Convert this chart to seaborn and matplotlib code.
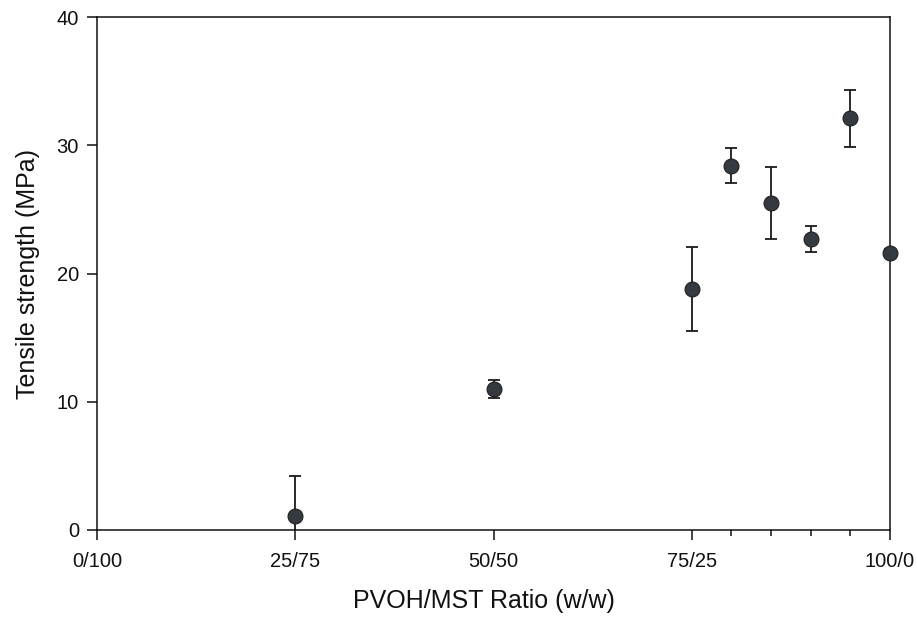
import matplotlib
matplotlib.use("Agg")
import matplotlib.pyplot as plt
import seaborn as sns
import pandas as pd
import numpy as np

# PVOH content (%) of the blend
pvoh = [25, 50, 75, 80, 85, 90, 95, 100]
strength = [1.1, 11.0, 18.8, 28.4, 25.5, 22.7, 32.1, 21.6]
err = [3.1, 0.7, 3.3, 1.35, 2.8, 1.0, 2.2, 0.3]

tick_pos = [0, 25, 50, 75, 100]
tick_labels = ["0/100", "25/75", "50/50", "75/25", "100/0"]
minor_pos = [80, 85, 90, 95]

df = pd.DataFrame({"pvoh": pvoh, "strength": strength, "err": err})

sns.set_theme(style="white")
plt.rcParams["font.family"] = ["Liberation Sans", "DejaVu Sans"]

fig = plt.figure(figsize=(9.17, 6.19), dpi=100)
ax = fig.add_axes([0.1058, 0.1438, 0.8648, 0.8287])

ax.errorbar(df["pvoh"], df["strength"], yerr=df["err"], fmt="none",
            ecolor="#1a1a1a", elinewidth=1.3, capsize=4.5, capthick=1.3,
            zorder=2, clip_on=True)
sns.scatterplot(data=df, x="pvoh", y="strength", ax=ax, s=115,
                color="#353a40", edgecolor="#202020", linewidth=0.8,
                zorder=3, clip_on=False, legend=False)

ax.set_xlim(0, 100)
ax.set_ylim(0, 40)
ax.set_xticks(tick_pos)
ax.set_xticklabels(tick_labels)
ax.set_xticks(minor_pos, minor=True)
ax.set_yticks([0, 10, 20, 30, 40])

ax.tick_params(axis="both", which="major", direction="out", length=7,
               width=1.1, color="#111111", labelsize=14.5, labelcolor="#111111",
               bottom=True, left=True, pad=6)
ax.tick_params(axis="x", which="major", pad=9)
ax.tick_params(axis="x", which="minor", direction="out", length=4,
               width=1.1, color="#111111", bottom=True)

for sp in ax.spines.values():
    sp.set_visible(True)
    sp.set_color("#111111")
    sp.set_linewidth(1.1)

ax.set_xlabel("PVOH/MST Ratio (w/w)", fontsize=18, color="#111111", labelpad=17)
ax.xaxis.set_label_coords(0.488, -0.115)
ax.set_ylabel("Tensile strength (MPa)", fontsize=18, color="#111111", labelpad=12)

fig.savefig("out.png", dpi=100, facecolor="white")
